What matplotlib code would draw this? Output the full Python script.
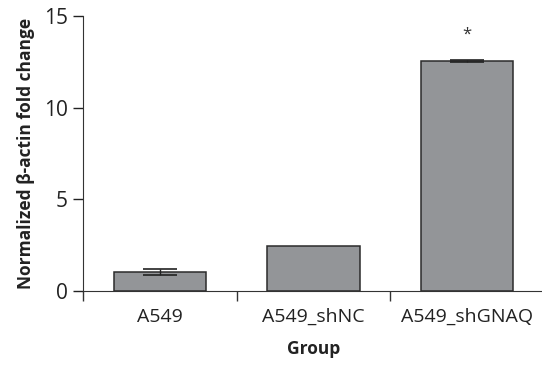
import numpy as np
import matplotlib.pyplot as plt

groups = ['A549', 'A549_shNC', 'A549_shGNAQ']
fold = [1.02, 2.44, 12.55]
err = [0.16, np.nan, 0.04]
star_y = 14.0

plt.rcParams['font.family'] = ['Open Sans', 'DejaVu Sans']

fig = plt.figure(figsize=(5.42, 3.66), dpi=100)
ax = fig.add_axes([0.153, 0.205, 0.851, 0.751])

x = np.arange(len(groups))
ax.bar(x, fold, width=0.6, color='#939598', edgecolor='#2b2b2b', linewidth=1.1, zorder=2)
ax.errorbar(x, fold, yerr=err, fmt='none', ecolor='#222222', elinewidth=1, capsize=12, capthick=1.2, zorder=3)
ax.text(x[2], star_y, '*', ha='center', va='center', fontsize=12, color='#333333')

ax.set_xlim(-0.5, 2.5)
ax.set_ylim(0, 15)
ax.set_yticks([0, 5, 10, 15])
ax.set_xticks(x)
ax.set_xticklabels(groups)
ax.set_xticks([-0.5, 0.5, 1.5, 2.5], minor=True)
ax.tick_params(axis='x', which='major', length=0, labelsize=14, pad=12, colors='#222222')
ax.tick_params(axis='x', which='minor', length=7, width=1, direction='out', color='#333333')
ax.tick_params(axis='y', length=7, width=1, labelsize=15, pad=4, colors='#222222')

for s in ['top', 'right']:
    ax.spines[s].set_visible(False)
ax.spines['left'].set_color('#333333')
ax.spines['bottom'].set_color('#333333')

ax.set_xlabel('Group', fontsize=12.5, fontweight='bold', labelpad=10, color='#222222')
ax.set_ylabel('Normalized β-actin fold change', fontsize=12.5, fontweight='bold', labelpad=6, color='#222222')

fig.savefig('out.png', dpi=100)
